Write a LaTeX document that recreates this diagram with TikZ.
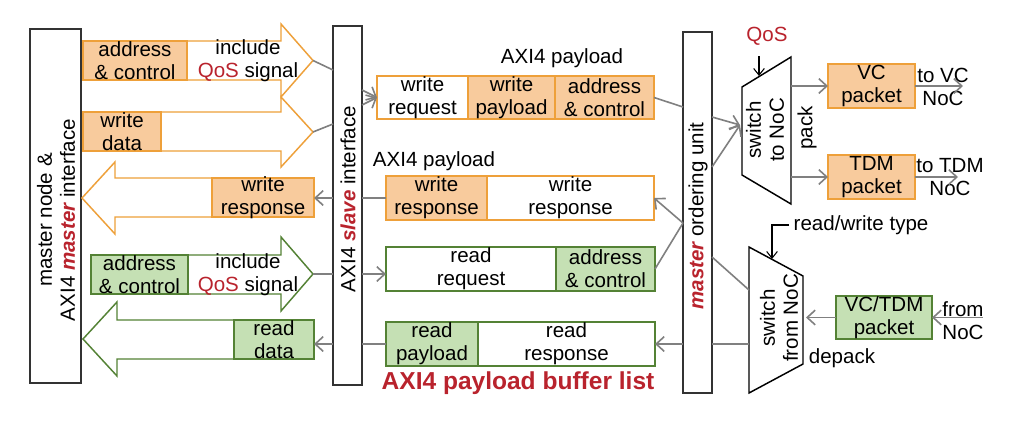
\documentclass[tikz,border=0pt]{standalone}
\usepackage{fontspec}
\setmainfont{Liberation Sans}
\usetikzlibrary{positioning}
\usetikzlibrary{arrows.meta}

\definecolor{orline}{RGB}{238,160,58}
\definecolor{orfill}{RGB}{248,203,157}
\definecolor{grline}{RGB}{84,130,53}
\definecolor{grfill}{RGB}{197,224,180}
\definecolor{qosred}{RGB}{185,35,45}
\definecolor{conn}{RGB}{128,128,128}
\newcommand{\qos}{\textcolor{qosred}{QoS}}
\newcommand{\hl}[1]{\textcolor{qosred}{\bfseries\itshape #1}}

\begin{document}
\begin{tikzpicture}[x=0.75pt,y=-0.75pt,
  every node/.style={font=\fontsize{15.4}{17.3}\selectfont},
  seg/.style={draw,line width=1.1pt,inner xsep=0pt,inner ysep=-2pt,outer sep=0pt,
              anchor=north west,align=center,minimum height=33pt},
  orseg/.style={seg,draw=orline,fill=orfill},
  orwhite/.style={seg,draw=orline,fill=white},
  grseg/.style={seg,draw=grline,fill=grfill},
  grwhite/.style={seg,draw=grline,fill=white},
  iface/.style={draw=black!80,line width=1.1pt,fill=white,anchor=north west,
                inner sep=0pt,outer sep=0pt,minimum width=21.75pt},
  fat/.style={line width=1.1pt,line join=miter},
  link/.style={draw=conn,line width=1.2pt},
  linkto/.style={link,-{Straight Barb[length=6pt,width=11pt]}},
  ctl/.style={draw=black,line width=0.8pt,-{Straight Barb[length=5pt,width=8pt]}}]

  \fill[white] (0,0) rectangle (1020,422);

  % master node
  \node[iface,minimum width=38.25pt,minimum height=265.5pt] (MN) at (30,29) {};
  \node[rotate=90,align=center] (MNt) at (56,220) {master node \&\\AXI4 \hl{master} interface};

  % fat arrows
  \draw[fat,draw=orline] (187,41) -- (281,41) -- (281,24) -- (313,60.5) coordinate (t1)
        -- (281,97) -- (281,80) -- (187,80);
  \node[orseg,minimum width=78pt,minimum height=29.25pt] (ac1) at (83,41) {address\\\& control};
  \node[align=center] (inc1) at (248,61) {include\\\qos{} signal};

  \draw[fat,draw=orline] (161,112) -- (281,112) -- (281,97) -- (313,132) coordinate (t2)
        -- (281,167) -- (281,151) -- (161,151);
  \node[orseg,minimum width=58.5pt,minimum height=29.25pt] (wd) at (83,112) {write\\data};

  \draw[fat,draw=orline] (212,178) -- (115,178) -- (115,162) -- (82,198) coordinate (t3)
        -- (115,234) -- (115,217) -- (212,217);
  \node[orseg,minimum width=76.5pt,minimum height=29.25pt] (wr) at (212,178) {write\\response};

  \draw[fat,draw=grline] (188,255) -- (281,255) -- (281,237) -- (313,274) coordinate (t4)
        -- (281,311) -- (281,294) -- (188,294);
  \node[grseg,minimum width=72.75pt,minimum height=29.25pt] (ac2) at (91,255) {address\\\& control};
  \node[align=center] (inc2) at (248,275) {include\\\qos{} signal};

  \draw[fat,draw=grline] (234,320) -- (117,320) -- (117,302) -- (83,339) coordinate (t5)
        -- (117,376) -- (117,359) -- (234,359);
  \node[grseg,minimum width=60pt,minimum height=29.25pt] (rd) at (234,320) {read\\data};

  % slave interface
  \node[iface,minimum height=269.25pt] (SI) at (333,26) {};
  \node[rotate=90] (SIt) at (348,199) {AXI4 \hl{slave} interface};

  % payload buffers
  \node[orwhite,minimum width=68.25pt,minimum height=32.25pt] (wq1) at (377,76) {write\\request};
  \node[orseg,minimum width=65.25pt,minimum height=32.25pt,right=0pt of wq1] (wq2) {write\\payload};
  \node[orseg,minimum width=74.25pt,minimum height=32.25pt,right=0pt of wq2] (wq3) {address\\\& control};
  \node (pl1) at (562,58) {AXI4 payload};

  \node[orseg,minimum width=75.75pt] (ws1) at (386,176) {write\\response};
  \node[orwhite,minimum width=125.25pt,right=0pt of ws1] (ws2) {write\\response};
  \node (pl2) at (434,161) {AXI4 payload};

  \node[grwhite,minimum width=127.5pt] (rq1) at (386,247) {read\\request};
  \node[grseg,minimum width=74.25pt,right=0pt of rq1] (rq2) {address\\\& control};

  \node[grseg,minimum width=69pt] (rr1) at (386,322) {read\\payload};
  \node[grwhite,minimum width=132.75pt,right=0pt of rr1] (rr2) {read\\response};
  \node[text=qosred,font=\fontsize{18.4}{20}\selectfont\bfseries] (bl) at (518,383) {AXI4 payload buffer list};

  % ordering unit
  \node[iface,minimum height=270.75pt] (OU) at (683,32) {};
  \node[rotate=90] (OUt) at (698,216) {\hl{master} ordering unit};

  % switches
  \draw[line width=1.1pt] (742,87) -- (791,57) -- (791,204) -- (742,175) -- cycle;
  \node[rotate=90,align=center] (STN) at (765,130) {switch\\to NoC};
  \draw[line width=1.1pt] (749,247) -- (803,276) -- (803,364) -- (749,393) -- cycle;
  \node[rotate=90,align=center] (SFN) at (779,318) {switch\\from NoC};

  % packets
  \node[orseg,minimum width=65.25pt] (VC) at (828,64) {VC\\packet};
  \node[orseg,minimum width=65.25pt] (TDM) at (828,155) {TDM\\packet};
  \node[grseg,minimum width=72pt,minimum height=32.25pt] (VT) at (836,296) {VC/TDM\\packet};

  \node[text=qosred] (qos) at (767,36) {QoS};
  \node[rotate=90] (pk) at (807,128) {pack};
  \node (dp) at (842,358) {depack};
  \node[anchor=west] (rw) at (789,225) {read/write type};
  \node[align=center] (tvc) at (943,87) {to VC\\NoC};
  \node[align=center] (ttdm) at (950,177) {to TDM\\NoC};
  \node[align=center] (fn) at (963,321) {from\\NoC};

  % connectors, slave side
  \coordinate (sia) at (333,70);
  \coordinate (sib) at (333,124);
  \coordinate (sic) at (362,90);
  \coordinate (sid) at (362,105);
  \draw[link] (t1) -- (sia) (t2) -- (sib);
  \draw[linkto] (sic) -- (wq1.west);
  \draw[linkto] (sid) -- (wq1.west);
  \draw[link] (ws1.west) -- (SI.east |- ws1.west);
  \draw[linkto] (SI.west |- ws1.west) -- (wr.east |- ws1.west);
  \draw[link] (t4) -- (SI.west |- t4);
  \draw[linkto] (SI.east |- t4) -- (rq1.west |- t4);
  \draw[link] (rr1.west) -- (SI.east |- rr1.west);
  \draw[linkto] (SI.west |- rr1.west) -- (rd.east |- rr1.west);

  % connectors, ordering unit
  \coordinate (oua) at (683,107);
  \coordinate (oub) at (683,223);
  \coordinate (ouc) at (712,117);
  \coordinate (oud) at (712,167);
  \coordinate (oue) at (712,257);
  \coordinate (stin) at (740,125);
  \coordinate (sfa) at (749,344);
  \coordinate (sfb) at (749,290);
  \draw[link] (wq3.east) -- (oua);
  \draw[linkto] (oub) -- (ws2.east);
  \draw[link] (rq2.east) -- (oub);
  \draw[link] (sfa) -- (OU.east |- rr2.east);
  \draw[linkto] (OU.west |- rr2.east) -- (rr2.east);
  \draw[linkto] (ouc) -- (stin);
  \draw[linkto] (oud) -- (stin);
  \draw[link] (oue) -- (sfb);

  % connectors, NoC side
  \coordinate (sta) at (791,86);
  \coordinate (stb) at (791,177);
  \coordinate (vco) at (963,86);
  \coordinate (tdo) at (958,177);
  \coordinate (fin) at (983,317.5);
  \coordinate (sfc) at (806,317.5);
  \draw[linkto] (sta) -- (VC.west);
  \draw[linkto] (stb) -- (TDM.west);
  \draw[linkto] (VC.east) -- (vco);
  \draw[linkto] (TDM.east) -- (tdo);
  \draw[linkto] (fin) -- (VT.east);
  \draw[linkto] (VT.west) -- (sfc);

  \coordinate (qa) at (759,56);
  \coordinate (qb) at (759,76);
  \coordinate (rwb) at (772,259);
  \draw[ctl] (qa) -- (qb);
  \draw[ctl] (rw.west) -| (rwb);
\end{tikzpicture}
\end{document}
